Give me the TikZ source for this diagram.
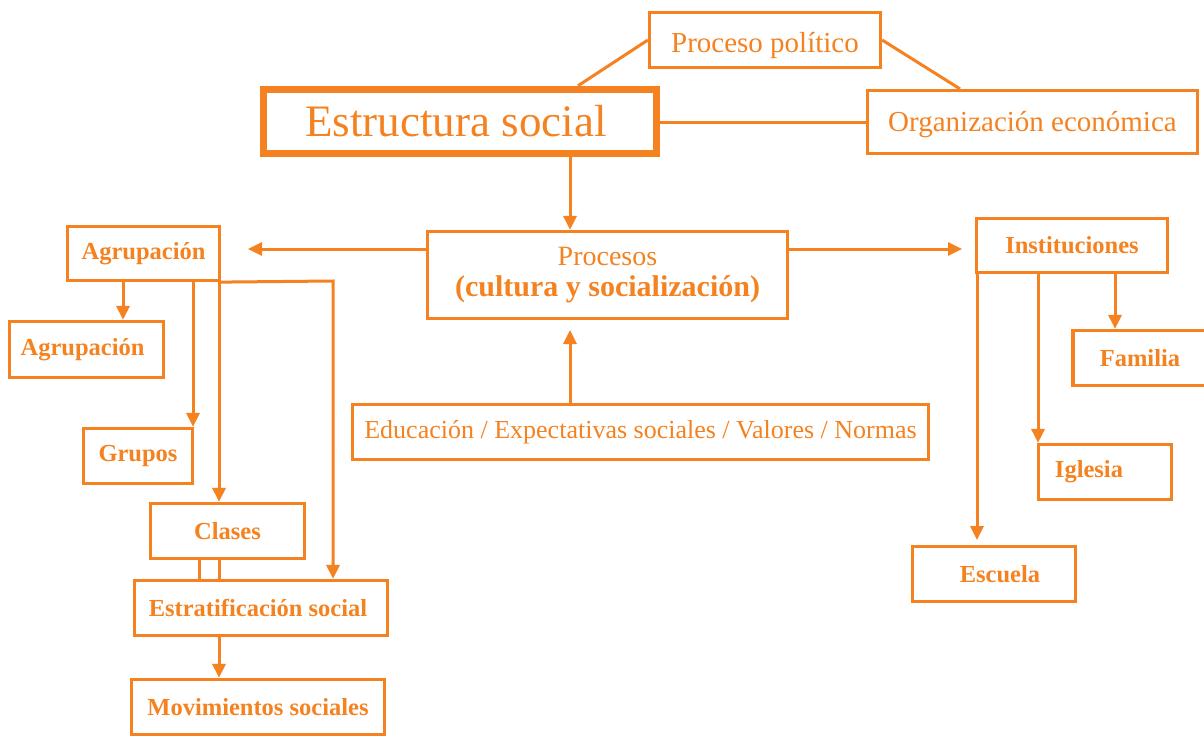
\documentclass[tikz,border=0pt]{standalone}
\usepackage{fontspec}
\setmainfont{Liberation Serif}
\usetikzlibrary{arrows.meta,calc}
\definecolor{orc}{RGB}{245,130,32}
\tikzset{
  box/.style={draw=orc, line width=3.2pt, rectangle, inner sep=0pt, text=orc, align=center},
  bl/.style={font=\fontsize{24.5}{28}\selectfont\bfseries},
  rg/.style={font=\fontsize{29}{32}\selectfont},
  conn/.style={draw=orc, line width=3pt},
  arr/.style={conn, -{Triangle[length=14pt,width=13pt]}}
}
\begin{document}
\begin{tikzpicture}[x=1pt,y=-1pt]
\clip (0,0) rectangle (1204,736);
\fill[white] (0,0) rectangle (1204,736);
% top
\node[box,rg,minimum width=231,minimum height=55] (pp) at (765,40) {\raisebox{-6pt}[\height][\depth]{Proceso político}};
\node[box,line width=7.5pt,minimum width=393,minimum height=64,font=\fontsize{45}{50}\selectfont] (es) at (460,121.5) {\hspace*{-8pt}Estructura social};
\node[box,rg,minimum width=330,minimum height=63] (oe) at (1032.5,122) {\raisebox{-3pt}[\height][\depth]{Organización económica}};
\node[box,minimum width=360,minimum height=87,font=\fontsize{28}{32}\selectfont] (pr) at (607.5,275) {Procesos\\[-1pt]{\fontsize{30}{32}\selectfont\bfseries (cultura y socialización)}};
\node[box,minimum width=576,minimum height=55,font=\fontsize{26}{30}\selectfont] (ed) at (640.5,432) {Educación / Expectativas sociales / Valores / Normas};
% left
\node[box,bl,minimum width=152,minimum height=54] (ag1) at (143.5,253.5) {Agrupación};
\node[box,bl,minimum width=154,minimum height=56] (ag2) at (86.5,349.5) {\hspace*{-8pt}Agrupación};
\node[box,bl,minimum width=109,minimum height=55] (gr) at (138,456) {Grupos};
\node[box,bl,minimum width=154,minimum height=55] (cl) at (227.5,531) {Clases};
\node[box,bl,minimum width=253,minimum height=55] (et) at (261,608) {\hspace*{-6pt}Estratificación social};
\node[box,bl,minimum width=253,minimum height=55] (mv) at (258,707) {Movimientos sociales};
% right
\node[box,bl,minimum width=191,minimum height=54] (in) at (1072,245.5) {Instituciones};
\node[box,bl,minimum width=134,minimum height=55] (fa) at (1140,358) {Familia};
\node[box,bl,minimum width=133,minimum height=55] (ig) at (1105,472) {\hspace*{-32pt}Iglesia};
\node[box,bl,minimum width=163,minimum height=55] (esc) at (994,574) {\hspace*{12pt}Escuela};
% helper coordinates
\coordinate (xc) at (570,0);
\coordinate (hy) at (0,249);
\coordinate (agend) at (248,249);
\coordinate (inend) at (962,249);
\coordinate (prup) at (570,330);
\coordinate (x123) at (123,0);
\coordinate (x193) at (193,0);
\coordinate (x199) at (199,0);
\coordinate (x219) at (219,0);
\coordinate (corner) at (333,281);
\coordinate (x333) at (333,0);
\coordinate (x1115) at (1115,0);
\coordinate (x1038) at (1038,0);
\coordinate (x977) at (977,0);
\coordinate (escend) at (977,540);
\coordinate (x578) at (578,0);
\coordinate (x960) at (960,0);
% connectors top
\draw[conn] (pp.west) -- (x578 |- es.north);
\draw[conn] (pp.east) -- (x960 |- oe.north);
\draw[conn] (es.east |- oe.west) -- (oe.west);
\draw[arr] (xc |- es.south) -- (xc |- pr.north);
\draw[arr] (pr.west |- hy) -- (agend);
\draw[arr] (pr.east |- hy) -- (inend);
\draw[arr] (xc |- ed.north) -- (prup);
% left connectors
\draw[arr] (x123 |- ag1.south) -- (x123 |- ag2.north);
\draw[arr] (x193 |- ag1.south) -- (x193 |- gr.north);
\draw[arr] (x219 |- ag1.north) -- (x219 |- cl.north);
\draw[arr] (ag1.south east) -- (corner) -- (x333 |- et.north);
\draw[conn] (x199 |- cl.south) -- (x199 |- et.north);
\draw[conn] (x219 |- cl.south) -- (x219 |- et.north);
\draw[arr] (x219 |- et.south) -- (x219 |- mv.north);
% right connectors
\draw[arr] (x1115 |- in.south) -- (x1115 |- fa.north);
\draw[arr] (x1038 |- in.south) -- (x1038 |- ig.north);
\draw[arr] (x977 |- in.south) -- (escend);
\end{tikzpicture}
\end{document}
